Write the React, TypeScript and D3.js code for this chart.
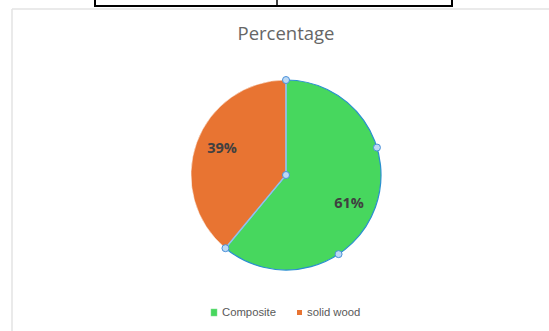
import React from "react";
import * as d3 from "d3";

const categories = ["Composite", "solid wood"];
const values = [61, 39];
const colors = ["#47d75e", "#e87432"];

export default function App() {
  const W = 549, H = 331;
  const cx = 286, cy = 175, r = 95;
  const pie = d3.pie<number>().sort(null).startAngle(0).endAngle(2 * Math.PI);
  const arcs = pie(values);
  const arcGen = d3.arc<d3.PieArcDatum<number>>().innerRadius(0).outerRadius(r);
  const labelR = r * 0.75;
  const labelOffsets = [
    { dx: -4, dy: 5 },
    { dx: 3, dy: -2 },
  ];
  const green = arcs[0];
  const handleAngles = [0, 1, 2, 3].map(i => green.startAngle + (green.endAngle - green.startAngle) * i / 3);
  const handles: [number, number][] = handleAngles.map(a => [cx + r * Math.sin(a), cy - r * Math.cos(a)]);
  handles.push([cx, cy]);
  return (
    <svg width={W} height={H} style={{ position: "absolute", left: 0, top: 0, background: "#fff" }}>
      <rect x={0} y={0} width={W} height={H} fill="#fff" />
      {/* table border */}
      <line x1={94} y1={6} x2={453} y2={6} stroke="#000" strokeWidth={2} />
      <line x1={95} y1={0} x2={95} y2={7} stroke="#000" strokeWidth={2} />
      <line x1={277} y1={0} x2={277} y2={7} stroke="#000" strokeWidth={1.5} />
      <line x1={452} y1={0} x2={452} y2={7} stroke="#000" strokeWidth={2} />
      {/* chart border */}
      <line x1={12} y1={9} x2={549} y2={9} stroke="#e3e3e3" strokeWidth={1.5} />
      <line x1={12} y1={9} x2={12} y2={331} stroke="#e3e3e3" strokeWidth={1.5} />
      <text x={cx} y={40} textAnchor="middle" fontFamily="'Open Sans', sans-serif" fontSize={18.5} fill="#666">Percentage</text>
      <g transform={`translate(${cx},${cy})`}>
        {arcs.map((a, i) => (
          <path key={i} d={arcGen(a) || ""} fill={colors[i]} stroke={i === 0 ? "#2a8fd0" : "#fff"} strokeWidth={i === 0 ? 1.2 : 0.5} />
        ))}
        <line x1={0} y1={0} x2={r * Math.sin(green.startAngle)} y2={-r * Math.cos(green.startAngle)} stroke="#8ec1ef" strokeWidth={1.5} />
        <line x1={0} y1={0} x2={r * Math.sin(green.endAngle)} y2={-r * Math.cos(green.endAngle)} stroke="#8ec1ef" strokeWidth={1.5} />
        {arcs.map((a, i) => {
          const m = (a.startAngle + a.endAngle) / 2;
          return (
            <text key={i} x={labelR * Math.sin(m) + labelOffsets[i].dx} y={-labelR * Math.cos(m) + labelOffsets[i].dy}
              textAnchor="middle" dominantBaseline="middle" fontFamily="'Open Sans', sans-serif" fontWeight="bold" fontSize={14.5} fill="#404040">
              {`${values[i]}%`}
            </text>
          );
        })}
      </g>
      {handles.map((h, i) => (
        <circle key={i} cx={h[0]} cy={h[1]} r={3.5} fill="#bcd9f5" stroke="#4a90d9" strokeWidth={1} />
      ))}
      {/* legend */}
      <rect x={211} y={309} width={6} height={7} fill={colors[0]} stroke="#7fe08f" strokeWidth={0.5} />
      <text x={222} y={315.5} fontFamily="'Liberation Sans', Arial, sans-serif" fontSize={11.3} fill="#595959">{categories[0]}</text>
      <rect x={297} y={310} width={5} height={5} fill={colors[1]} />
      <text x={307} y={315.5} fontFamily="'Liberation Sans', Arial, sans-serif" fontSize={11.3} fill="#595959">{categories[1]}</text>
    </svg>
  );
}
